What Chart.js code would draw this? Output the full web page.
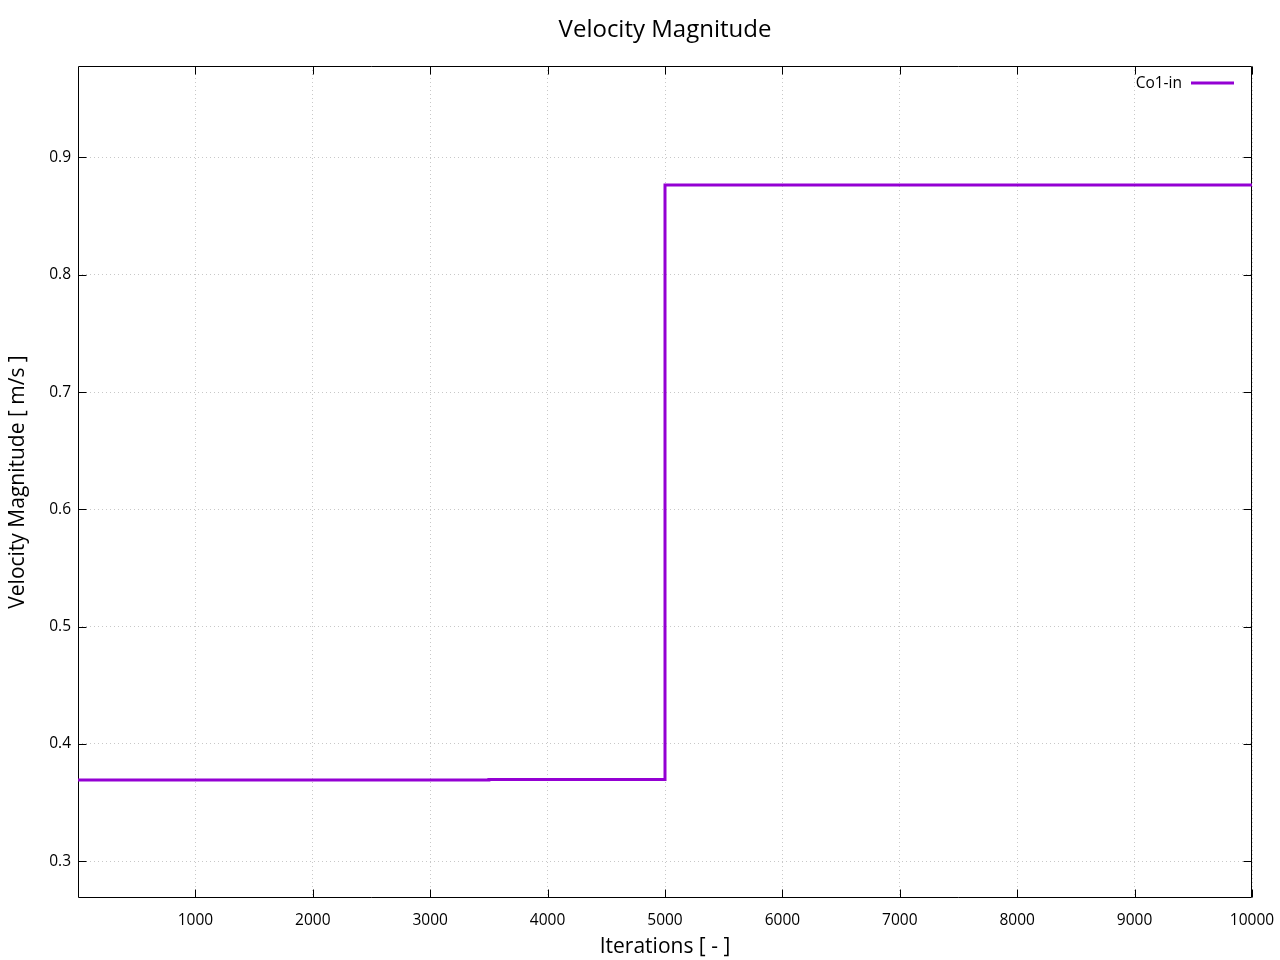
<!DOCTYPE html>
<html>
<head>
<meta charset="utf-8">
<script src="https://cdn.jsdelivr.net/npm/chart.js@4.4.1/dist/chart.umd.min.js"></script>
<style>
html,body{margin:0;padding:0;background:#fff;}
#wrap{width:1280px;height:960px;}
</style>
</head>
<body>
<div id="wrap"><canvas id="c" width="1280" height="960"></canvas></div>
<script>
const chartTitle = "Velocity Magnitude";
const xTitle = "Iterations [ - ]";
const yTitle = "Velocity Magnitude [ m/s ]";
const seriesLabel = "Co1-in";
const iterations = [0, 3500, 3500, 5000, 5000, 10000];
const velocity = [0.3692, 0.3692, 0.3698, 0.3698, 0.8765, 0.8765];
const xTicks = [1000, 2000, 3000, 4000, 5000, 6000, 7000, 8000, 9000, 10000];
const yTicks = [0.3, 0.4, 0.5, 0.6, 0.7, 0.8, 0.9];
const xRange = [0, 10000];
const yRange = [0.2687, 0.978];

const FONT = "'Open Sans', 'DejaVu Sans', sans-serif";
const LINE_COLOR = "#9400d3";

const framePlugin = {
  id: 'frame',
  beforeDatasetsDraw(chart) {
    const {ctx, chartArea: a, scales} = chart;
    ctx.save();
    ctx.strokeStyle = '#000';
    ctx.lineWidth = 1;
    ctx.beginPath();
    const L = Math.round(a.left) + 0.5, R = Math.round(a.right) - 0.5;
    const T = Math.round(a.top) + 0.5, B = Math.round(a.bottom) - 0.5;
    ctx.rect(L, T, R - L, B - T);
    const tl = 8;
    scales.x.ticks.forEach(t => {
      const px = Math.round(scales.x.getPixelForValue(t.value)) + 0.5;
      ctx.moveTo(px, B); ctx.lineTo(px, B - tl);
      ctx.moveTo(px, T); ctx.lineTo(px, T + tl);
    });
    scales.y.ticks.forEach(t => {
      const py = Math.round(scales.y.getPixelForValue(t.value)) + 0.5;
      ctx.moveTo(L, py); ctx.lineTo(L + tl, py);
      ctx.moveTo(R, py); ctx.lineTo(R - tl, py);
    });
    ctx.stroke();
    ctx.restore();
  },
  afterDraw(chart) {
    const {ctx} = chart;
    ctx.save();
    ctx.fillStyle = '#000';
    ctx.font = "24px " + FONT;
    ctx.textAlign = 'center';
    ctx.textBaseline = 'middle';
    ctx.fillText(chartTitle, 665, 30);
    const ds = chart.data.datasets[0];
    ctx.font = "15.5px " + FONT;
    ctx.textAlign = 'right';
    ctx.fillText(ds.label, 1182, 84);
    ctx.strokeStyle = ds.borderColor;
    ctx.lineWidth = 3;
    ctx.beginPath();
    ctx.moveTo(1191, 83);
    ctx.lineTo(1234, 83);
    ctx.stroke();
    ctx.restore();
  }
};

new Chart(document.getElementById('c'), {
  type: 'line',
  data: {
    datasets: [{
      label: seriesLabel,
      data: iterations.map((x, i) => ({x: x, y: velocity[i]})),
      borderColor: LINE_COLOR,
      backgroundColor: LINE_COLOR,
      borderWidth: 3,
      pointRadius: 0,
      tension: 0,
      fill: false
    }]
  },
  options: {
    responsive: false,
    animation: false,
    devicePixelRatio: 1,
    layout: {padding: {top: 66, right: 28, left: 0, bottom: 0}},
    plugins: {legend: {display: false}, title: {display: false}, tooltip: {enabled: false}},
    scales: {
      x: {
        type: 'linear',
        min: xRange[0], max: xRange[1],
        afterBuildTicks(s) { s.ticks = xTicks.map(v => ({value: v})); },
        afterFit(s) { s.height = 62; s.paddingLeft = 0; s.paddingRight = 0; },
        grid: {color: '#c8c8c8', drawTicks: false, lineWidth: 1},
        border: {display: false, dash: [1, 3]},
        ticks: {color: '#000', font: {family: FONT, size: 15.5}, padding: 13, maxRotation: 0, autoSkip: false,
          callback: v => String(v)},
        title: {display: true, text: xTitle, color: '#000', font: {family: FONT, size: 21}, padding: {top: 2, bottom: 0}}
      },
      y: {
        type: 'linear',
        min: yRange[0], max: yRange[1],
        afterBuildTicks(s) { s.ticks = yTicks.map(v => ({value: v})); },
        afterFit(s) { s.width = 78; s.paddingTop = 0; s.paddingBottom = 0; },
        grid: {color: '#c8c8c8', drawTicks: false, lineWidth: 1},
        border: {display: false, dash: [1, 3]},
        ticks: {color: '#000', font: {family: FONT, size: 15.5}, padding: 7, autoSkip: false,
          callback: v => v.toFixed(1)},
        title: {display: true, text: yTitle, color: '#000', font: {family: FONT, size: 21}, padding: {top: 5, bottom: 0}}
      }
    }
  },
  plugins: [framePlugin]
});
</script>
</body>
</html>
